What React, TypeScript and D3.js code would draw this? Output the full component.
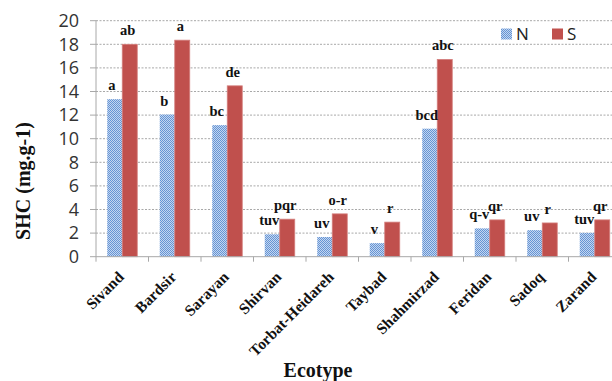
import * as d3 from 'd3';

const ecotypes = ['Sivand', 'Bardsir', 'Sarayan', 'Shirvan', 'Torbat-Heidareh', 'Taybad', 'Shahmirzad', 'Feridan', 'Sadoq', 'Zarand'];
const valuesN = [13.35, 12.05, 11.15, 1.9, 1.67, 1.15, 10.85, 2.4, 2.25, 2.02];
const valuesS = [18.0, 18.35, 14.48, 3.18, 3.63, 2.93, 16.72, 3.12, 2.86, 3.12];
const lettersN = ['a', 'b', 'bc', 'tuv', 'uv', 'v', 'bcd', 'q-v', 'uv', 'tuv'];
const lettersS = ['ab', 'a', 'de', 'pqr', 'o-r', 'r', 'abc', 'qr', 'r', 'qr'];
const yTicks = [0, 2, 4, 6, 8, 10, 12, 14, 16, 18, 20];

const W = 612;
const H = 381;
const serif = '"Liberation Serif", "Times New Roman", serif';
const sans = '"Open Sans", "Liberation Sans", sans-serif';

export default function App() {
  // plot area runs off the right edge, as in the reference
  const left = 96;
  const bandW = 52.5;
  const x = d3.scaleBand<string>()
    .domain(ecotypes)
    .range([left, left + bandW * ecotypes.length])
    .padding(0);
  const y = d3.scaleLinear().domain([0, 20]).range([256.7, 20.7]);
  const barW = 15;
  const cx = (c: string) => (x(c) ?? 0) + x.bandwidth() / 2;

  return (
    <svg width={W} height={H} style={{ position: 'fixed', left: 0, top: 0, background: '#fff' }}>
      <defs>
        <pattern id="dots" patternUnits="userSpaceOnUse" width={2} height={2}>
          <rect width={2} height={2} fill="#c3d6f0" />
          <rect x={0} y={0} width={1} height={1} fill="#6594d4" />
          <rect x={1} y={1} width={1} height={1} fill="#6594d4" />
        </pattern>
      </defs>

      {/* gridlines */}
      {yTicks.filter(t => t > 0).map(t => (
        <g key={t}>
          <line x1={left} x2={W} y1={y(t)} y2={y(t)} stroke="#a8a8a8" strokeDasharray="2,1.5" />
          <line x1={left - 6} x2={left} y1={y(t)} y2={y(t)} stroke="#a8a8a8" />
        </g>
      ))}
      <line x1={left - 6} x2={left} y1={y(0)} y2={y(0)} stroke="#a8a8a8" />

      {/* bars */}
      {ecotypes.map((c, i) => (
        <g key={c}>
          <rect x={cx(c) - barW} y={y(valuesN[i])} width={barW} height={y(0) - y(valuesN[i])} fill="url(#dots)" />
          <rect x={cx(c)} y={y(valuesS[i])} width={barW} height={y(0) - y(valuesS[i])} fill="#c0504d" stroke="#d47f7d" strokeWidth={0.8} />
          <text x={cx(c) - barW / 2 - 3} y={y(valuesN[i]) - 9} textAnchor="middle" fontFamily={serif} fontWeight="bold" fontSize={14.5} fill="#111">{lettersN[i]}</text>
          <text x={cx(c) + barW / 2 - 2} y={y(valuesS[i]) - 9} textAnchor="middle" fontFamily={serif} fontWeight="bold" fontSize={14.5} fill="#111">{lettersS[i]}</text>
        </g>
      ))}

      {/* axes */}
      <line x1={left} x2={left} y1={y(20)} y2={y(0)} stroke="#a8a8a8" />
      <line x1={left} x2={W} y1={y(0)} y2={y(0)} stroke="#a8a8a8" />
      {d3.range(ecotypes.length + 1).map(i => (
        <line key={i} x1={left + i * bandW} x2={left + i * bandW} y1={y(0)} y2={y(0) + 5} stroke="#a8a8a8" />
      ))}

      {yTicks.map(t => (
        <text key={t} x={79} y={y(t)} dy="0.35em" textAnchor="end" fontFamily={sans} fontSize={18} fill="#333">{t}</text>
      ))}

      {ecotypes.map(c => (
        <text key={c} transform={`translate(${cx(c) + 2.5},${278}) rotate(-45)`} textAnchor="end" fontFamily={serif} fontWeight="bold" fontSize={15.5} fill="#111">{c}</text>
      ))}

      <text transform="translate(29.5,181) rotate(-90)" textAnchor="middle" fontFamily={serif} fontWeight="bold" fontSize={20} fill="#111">SHC (mg.g-1)</text>
      <text x={318} y={376.5} textAnchor="middle" fontFamily={serif} fontWeight="bold" fontSize={20} fill="#111">Ecotype</text>

      {/* legend */}
      <rect x={501} y={28.5} width={11} height={11} fill="url(#dots)" />
      <text x={516} y={34} dy="0.35em" fontFamily={sans} fontSize={17} fill="#222">N</text>
      <rect x={552} y={28.5} width={11} height={11} fill="#c0504d" />
      <text x={567} y={34} dy="0.35em" fontFamily={sans} fontSize={17} fill="#222">S</text>
    </svg>
  );
}
